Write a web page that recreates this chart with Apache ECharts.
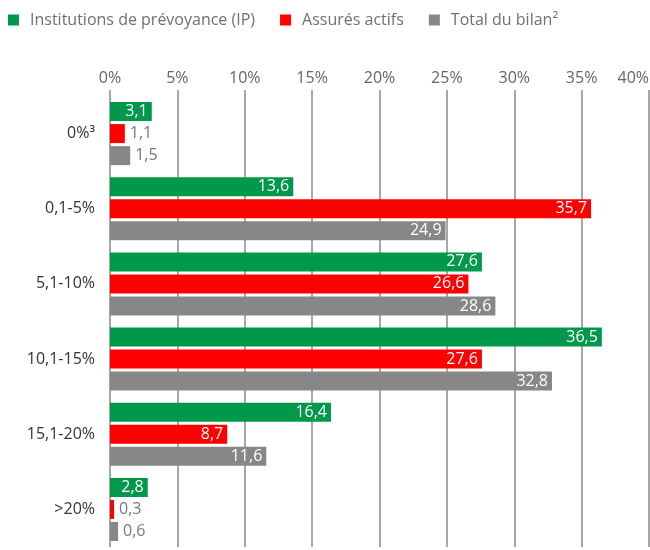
<!DOCTYPE html>
<html>
<head>
<meta charset="utf-8">
<script src="https://cdn.jsdelivr.net/npm/echarts@6/dist/echarts.min.js"></script>
<style>
  body { margin: 0; background: #fff; }
  #main { width: 650px; height: 550px; }
</style>
</head>
<body>
<div id="main"></div>
<script>
var categories = ['0%³', '0,1-5%', '5,1-10%', '10,1-15%', '15,1-20%', '>20%']
var ipValues = [3.1, 13.6, 27.6, 36.5, 16.4, 2.8]
var activeValues = [1.1, 35.7, 26.6, 27.6, 8.7, 0.3]
var balanceValues = [1.5, 24.9, 28.6, 32.8, 11.6, 0.6]
var seriesNames = ['Institutions de prévoyance (IP)', 'Assurés actifs', 'Total du bilan²']
var seriesColors = ['#00984a', '#ff0000', '#878787']

var fontFamily = '"Open Sans", "Noto Sans", sans-serif'

// petites valeurs : étiquette à droite de la barre, en gris
function withLabels(values) {
  return values.map(function (v) {
    if (v < 2) {
      return { value: v, label: { position: 'right', color: '#777', distance: 5 } }
    }
    return v
  })
}

function fmt(p) {
  return String(p.value).replace('.', ',')
}

function makeSeries(i, values) {
  return {
    name: seriesNames[i],
    type: 'bar',
    data: withLabels(values),
    barWidth: 19,
    barGap: '16%',
    itemStyle: { color: seriesColors[i] },
    label: {
      show: true,
      position: 'insideRight',
      distance: 4,
      color: '#fff',
      fontSize: 16,
      fontFamily: fontFamily,
      formatter: fmt
    }
  }
}

var myChart = echarts.init(document.getElementById('main'))
var option = {
  animation: false,
  textStyle: { fontFamily: fontFamily },
  legend: {
    left: 3,
    top: 7,
    icon: 'rect',
    itemWidth: 11,
    itemHeight: 11,
    itemGap: 25,
    textStyle: { color: '#707070', fontSize: 16, fontFamily: fontFamily, padding: [0, 0, 0, 6] },
    data: seriesNames
  },
  grid: {
    left: 110,
    right: 1,
    top: 96,
    bottom: 3,
    outerBoundsMode: 'none',
    containLabel: false
  },
  xAxis: {
    type: 'value',
    position: 'top',
    min: 0,
    max: 40,
    interval: 5,
    axisLabel: {
      color: '#666',
      fontSize: 16,
      margin: 10,
      alignMaxLabel: 'right',
      formatter: '{value}%'
    },
    axisLine: { show: false },
    // prolonge les lignes verticales au-dessus de la zone des barres
    axisTick: { show: true, length: 6, lineStyle: { color: '#8a8a8a', width: 1.5 } },
    splitLine: { lineStyle: { color: '#8a8a8a', width: 1.5 } }
  },
  yAxis: {
    type: 'category',
    inverse: true,
    data: categories,
    axisLine: { show: false },
    axisTick: { show: false },
    axisLabel: { color: '#333', fontSize: 16, margin: 15 }
  },
  series: [
    makeSeries(0, ipValues),
    makeSeries(1, activeValues),
    makeSeries(2, balanceValues)
  ]
}
myChart.setOption(option)
</script>
</body>
</html>
